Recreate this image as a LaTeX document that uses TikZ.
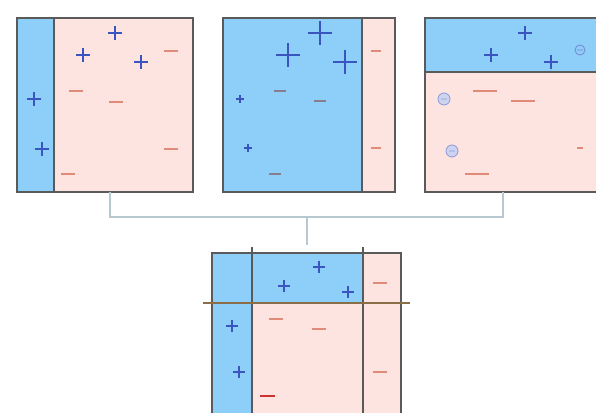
\documentclass[tikz,border=0pt]{standalone}
\definecolor{bl}{HTML}{8DCFF8}
\definecolor{pk}{HTML}{FDE4E1}
\definecolor{frame}{HTML}{5A5A5A}
\definecolor{plc}{HTML}{3A55C0}
\definecolor{mnc}{HTML}{E08A7A}
\definecolor{mnb}{HTML}{8A7C90}
\definecolor{brk}{HTML}{B8C8D0}
\definecolor{hline}{HTML}{8A6E48}
\tikzset{
  framebox/.style={draw=frame,line width=1.3pt},
  divider/.style={draw=frame,line width=1.2pt},
  plusmark/.style={draw=plc,line width=1.3pt},
  minusmark/.style={draw=mnc,line width=1.2pt},
  bracket/.style={draw=brk,line width=1.3pt},
}
\newcommand\pls[3]{\draw[plusmark] (#1-#3,#2) -- (#1+#3,#2) (#1,#2-#3) -- (#1,#2+#3);}
\newcommand\mns[3]{\draw[minusmark] (#1-#3,#2) -- (#1+#3,#2);}
\newcommand\mnsb[3]{\draw[minusmark,draw=mnb] (#1-#3,#2) -- (#1+#3,#2);}
\begin{document}
\begin{tikzpicture}[x=1pt,y=-1pt]
\useasboundingbox (0,0) rectangle (596,412);
% ---- panel 1
\fill[pk] (17,18) rectangle (193,192);
\fill[bl] (17,18) rectangle (54,192);
\draw[divider] (54,18) -- (54,192);
\draw[framebox] (17,18) rectangle (193,192);
\pls{115}{33}{7}\pls{83}{55}{7}\pls{141}{62}{7}\pls{34}{99}{7}\pls{42}{149}{7}
\mns{171}{51}{7}\mns{76}{91}{7}\mns{116}{102}{7}\mns{171}{149}{7}\mns{68}{174}{7}
% ---- panel 2
\fill[bl] (223,18) rectangle (395,192);
\fill[pk] (362,18) rectangle (395,192);
\draw[divider] (362,18) -- (362,192);
\draw[framebox] (223,18) rectangle (395,192);
\pls{320}{33}{12}\pls{288}{55}{12}\pls{345}{62}{12}\pls{240}{99}{4}\pls{248}{148}{4}
\mns{376}{51}{5}\mnsb{280}{91}{6}\mnsb{320}{101}{6}\mns{376}{148}{5}\mnsb{275}{174}{6}
% ---- panel 3
\fill[pk] (425,18) rectangle (598,192);
\fill[bl] (425,18) rectangle (598,72);
\draw[divider] (425,72) -- (598,72);
\draw[framebox] (598,18) -- (425,18) -- (425,192) -- (598,192);
\pls{525}{33}{7}\pls{491}{55}{7}\pls{551}{62}{7}
\draw[plc!70,line width=0.8pt] (580,50) circle (5) (577,50) -- (583,50);
\fill[plc!25] (444,99) circle (6);
\draw[plc!60,line width=0.8pt] (444,99) circle (6) (441,99) -- (447,99);
\fill[plc!25] (452,151) circle (6);
\draw[plc!60,line width=0.8pt] (452,151) circle (6) (449,151) -- (455,151);
\mns{485}{91}{12}\mns{523}{101}{12}\mns{580}{148}{3}\mns{477}{174}{12}
% ---- bracket
\coordinate (b1) at (110,192);
\coordinate (b2) at (503,192);
\coordinate (b1d) at (110,217);
\coordinate (b2d) at (503,217);
\coordinate (bm) at (307,217);
\coordinate (bs) at (307,245);
\draw[bracket] (b1) -- (b1d) -- (b2d) -- (b2);
\draw[bracket] (bm) -- (bs);
% ---- bottom panel
\fill[pk] (212,253) rectangle (401,414);
\fill[bl] (212,253) rectangle (363,303);
\fill[bl] (212,303) rectangle (252,414);
\draw[framebox] (212,414) -- (212,253) -- (401,253) -- (401,414);
\draw[divider] (252,247) -- (252,414);
\draw[divider] (363,247) -- (363,414);
\draw[draw=hline,line width=1.3pt] (203,303) -- (410,303);
\pls{319}{267}{6}\pls{284}{286}{6}\pls{348}{292}{6}\pls{232}{326}{6}\pls{239}{372}{6}
\mns{380}{283}{7}\mns{276}{319}{7}\mns{319}{329}{7}\mns{380}{372}{7}
\draw[draw=red!75!black!80,line width=1.8pt] (260,396) -- (275,396);
\end{tikzpicture}
\end{document}
